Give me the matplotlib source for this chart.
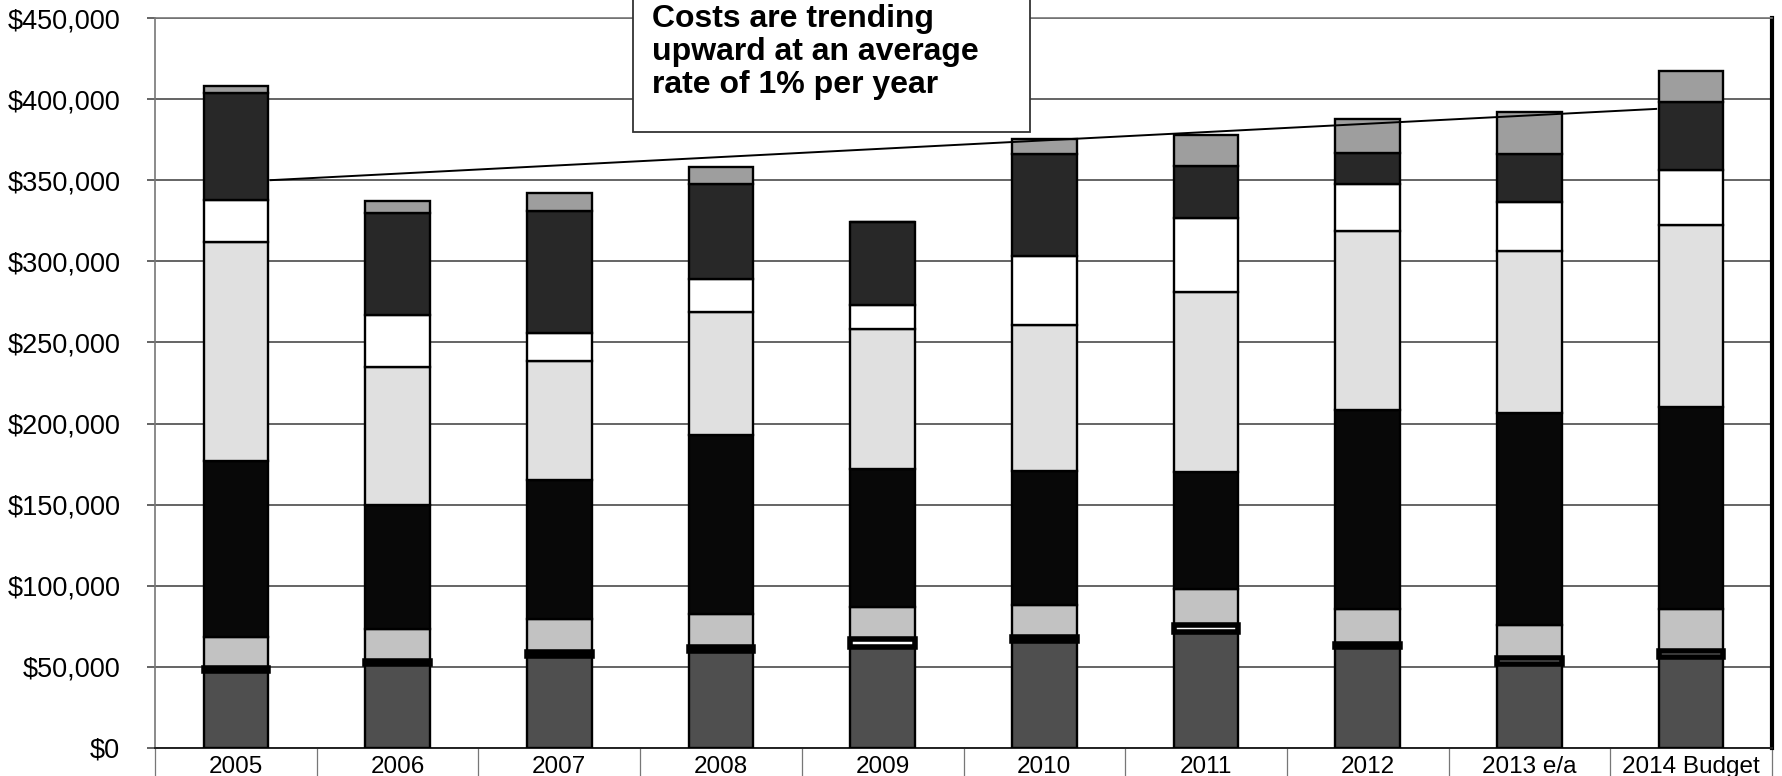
import matplotlib
matplotlib.use("Agg")
import matplotlib.pyplot as plt
from matplotlib.patches import Rectangle
from matplotlib.ticker import FuncFormatter, MultipleLocator
import numpy as np

plt.rcParams["font.family"] = ["Liberation Sans", "DejaVu Sans"]

# ---- data (dollars, in thousands) ----
years = ["2005", "2006", "2007", "2008", "2009", "2010", "2011", "2012",
         "2013 e/a", "2014 Budget"]
base      = [47.2, 51.5, 57.0, 59.5, 62.0, 66.2, 71.7, 62.0, 51.5, 56.4]
divider   = [2.0, 2.0, 2.0, 3.0, 5.0, 2.5, 4.0, 2.0, 4.0, 3.5]
lower     = [19.5, 20.1, 20.7, 20.3, 20.0, 19.3, 22.3, 21.8, 20.5, 25.9]
core      = [108.3, 76.4, 85.8, 110.2, 84.7, 83.0, 72.0, 122.7, 130.6, 124.2]
middle    = [135.0, 85.0, 73.0, 76.0, 86.3, 89.6, 111.0, 110.3, 100.0, 112.5]
open_band = [26.0, 32.0, 17.5, 20.0, 14.8, 42.4, 45.8, 28.8, 30.0, 33.5]
upper     = [66.0, 63.0, 75.0, 58.6, 51.2, 63.0, 32.2, 19.4, 29.4, 42.0]
cap       = [4.0, 7.0, 11.0, 10.4, 0.0, 9.7, 18.7, 21.0, 25.8, 19.5]

trend_start = 350.0   # trend value at the 2005 column
trend_end = 394.0     # trend value at the 2014 column

note = "Costs are trending\nupward at an average\nrate of 1% per year"

# ---- figure ----
W, H = 1782, 776
fig = plt.figure(figsize=(W / 100, H / 100), dpi=100)
ax = fig.add_axes([155 / W, (H - 748) / H, (1772 - 155) / W, (748 - 18) / H])

x = np.arange(len(years))
bw = 0.40

bottom = np.zeros(len(years))
stack = [base, divider, lower, core, middle, open_band, upper, cap]
colors = ["#4f4f4f", "#ffffff", "#c2c2c2", "#080808", "#e0e0e0",
          "#ffffff", "#282828", "#9e9e9e"]
for i, (vals, col) in enumerate(zip(stack, colors)):
    v = np.array(vals) * 1000
    if i == 1:
        # thin separator band with a heavy outline
        ax.bar(x, v, bw, bottom=bottom, color=col, edgecolor="black",
               linewidth=4.0, zorder=4)
    else:
        ax.bar(x, v, bw, bottom=bottom, color=col, edgecolor="black",
               linewidth=1.7, zorder=3)
    bottom += v

# trend line from the right edge of the first column to the left edge of the last
ax.plot([x[0] + bw / 2 + 0.01, x[-1] - bw / 2 - 0.01],
        [trend_start * 1000, trend_end * 1000],
        color="black", linewidth=1.4, zorder=6, solid_capstyle="butt")

# axes styling
ax.set_xlim(-0.5, len(years) - 0.5)
ax.set_ylim(0, 450000)
ax.yaxis.set_major_locator(MultipleLocator(50000))
ax.yaxis.set_major_formatter(FuncFormatter(lambda v, p: f"${v:,.0f}"))
ax.grid(axis="y", color="#3a3a3a", linewidth=1.1)
ax.set_axisbelow(True)

ax.set_xticks(x)
ax.set_xticklabels(years, fontsize=17.5)
ax.set_xticks(np.arange(len(years) + 1) - 0.5, minor=True)
ax.tick_params(axis="x", which="major", length=0, pad=6)
ax.tick_params(axis="x", which="minor", length=24, width=0.9, color="#777777",
               direction="out")
ax.tick_params(axis="y", length=6, width=1.1, color="#3a3a3a", pad=19,
               labelsize=19.5)

ax.spines["left"].set_color("#777777")
ax.spines["left"].set_linewidth(1.2)
ax.spines["left"].set_linestyle((0, (2, 1)))
ax.spines["top"].set_color("#777777")
ax.spines["top"].set_linewidth(1.2)
ax.spines["top"].set_linestyle((0, (2, 1)))
ax.spines["right"].set_color("black")
ax.spines["right"].set_linewidth(3)
ax.spines["bottom"].set_color("#222222")
ax.spines["bottom"].set_linewidth(1.4)

# callout box, running off the top edge
box = Rectangle((633 / W, (H - 132) / H), (1030 - 633) / W, 0.3,
                transform=fig.transFigure, facecolor="white",
                edgecolor="#333333", linewidth=1.3, zorder=5)
fig.patches.append(box)
fig.text(652 / W, (H - 52) / H, note, ha="left", va="center",
         fontsize=23, fontweight="bold", linespacing=1.14, zorder=6)

fig.savefig("out.png", dpi=100)
